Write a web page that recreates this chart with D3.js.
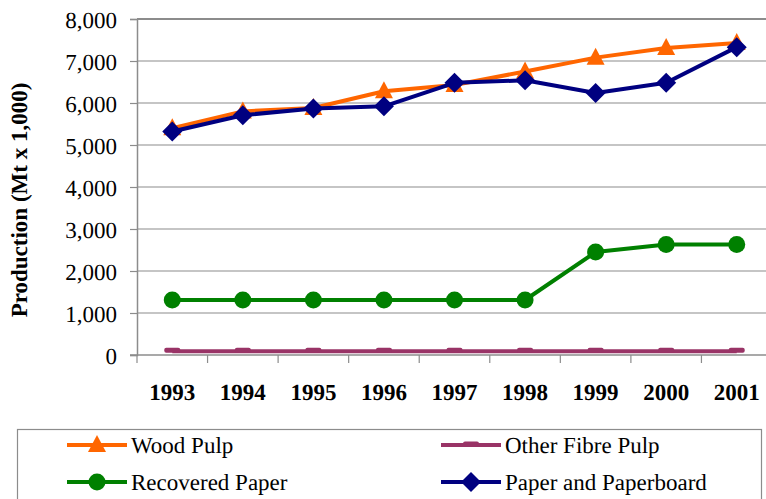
<!DOCTYPE html>
<html>
<head>
<meta charset="utf-8">
<script src="https://cdn.jsdelivr.net/npm/d3@7"></script>
<style>
    body { margin: 0; background: #fff; }
    svg { display: block; }
</style>
</head>
<body>
<svg id="chart" width="766" height="499" font-family="'Liberation Serif', serif" text-rendering="geometricPrecision"></svg>
<script>
const years = ["1993", "1994", "1995", "1996", "1997", "1998", "1999", "2000", "2001"];
const yTicks = [0, 1000, 2000, 3000, 4000, 5000, 6000, 7000, 8000];

const woodPulp = [5400, 5800, 5880, 6280, 6430, 6750, 7080, 7310, 7430];
const otherFibrePulp = [90, 90, 90, 90, 90, 90, 90, 90, 90];
const recoveredPaper = [1310, 1310, 1310, 1310, 1310, 1310, 2450, 2630, 2630];
const paperAndPaperboard = [5320, 5710, 5870, 5920, 6480, 6540, 6240, 6480, 7330];

const seriesNames = ["Wood Pulp", "Other Fibre Pulp", "Recovered Paper", "Paper and Paperboard"];
const seriesColors = ["#ff6600", "#993366", "#008000", "#000080"];
const seriesMarkers = ["triangle", "dash", "circle", "diamond"];
const seriesValues = [woodPulp, otherFibrePulp, recoveredPaper, paperAndPaperboard];

const FONT = "'Liberation Serif', serif";
const svg = d3.select("#chart");

const plot = { left: 137, top: 19, right: 772, bottom: 355 };

const x = d3.scaleBand()
    .domain(years)
    .range([plot.left, plot.right]);

const y = d3.scaleLinear()
    .domain([0, 8000])
    .range([plot.bottom, plot.top]);

// gridlines
svg.append("g")
    .selectAll("line")
    .data(yTicks.filter(function(d) { return d > 0; }))
    .enter()
    .append("line")
    .attr("x1", plot.left)
    .attr("x2", 766)
    .attr("y1", function(d) { return y(d); })
    .attr("y2", function(d) { return y(d); })
    .attr("stroke", "#8c8c8c")
    .attr("stroke-width", function(d) { return d === 8000 ? 2 : 1.2; });

// y axis
const yAxis = svg.append("g")
    .attr("transform", "translate(" + plot.left + ",0)")
    .call(d3.axisLeft(y).tickValues(yTicks).tickSize(7).tickFormat(d3.format(",")));

yAxis.attr("font-family", FONT).attr("font-size", 23);
yAxis.select(".domain").attr("stroke", "#8c8c8c").attr("stroke-width", 1.5);
yAxis.selectAll(".tick line").attr("stroke", "#8c8c8c").attr("stroke-width", 1.2);
yAxis.selectAll(".tick text")
    .attr("x", -20)
    .attr("dy", "0.35em")
    .attr("fill", "#000")
    .attr("font-family", FONT)
    .attr("font-size", 23);

// x axis
const xAxis = svg.append("g")
    .attr("transform", "translate(0," + plot.bottom + ")");

xAxis.append("line")
    .attr("x1", plot.left - 7)
    .attr("x2", 766)
    .attr("y1", 0)
    .attr("y2", 0)
    .attr("stroke", "#8c8c8c")
    .attr("stroke-width", 1.5);

xAxis.selectAll(".xtick")
    .data(years.concat(["end"]))
    .enter()
    .append("line")
    .attr("class", "xtick")
    .attr("x1", function(d, i) { return plot.left + i * x.bandwidth(); })
    .attr("x2", function(d, i) { return plot.left + i * x.bandwidth(); })
    .attr("y1", 0)
    .attr("y2", 8)
    .attr("stroke", "#8c8c8c")
    .attr("stroke-width", 1.2);

xAxis.selectAll(".year-label")
    .data(years)
    .enter()
    .append("text")
    .attr("class", "year-label")
    .attr("x", function(d) { return x(d) + x.bandwidth() / 2; })
    .attr("y", 45)
    .attr("text-anchor", "middle")
    .attr("font-family", FONT)
    .attr("font-size", 23)
    .attr("font-weight", "bold")
    .text(function(d) { return d; });

// axis title
svg.append("text")
    .attr("transform", "translate(27,200) rotate(-90)")
    .attr("text-anchor", "middle")
    .attr("font-family", FONT)
    .attr("font-size", 23)
    .attr("font-weight", "bold")
    .text("Production (Mt x 1,000)");

function drawMarker(group, type, color) {
    if (type === "triangle") {
        group.append("path")
            .attr("d", "M0,-10 L9,7 L-9,7 Z")
            .attr("fill", color);
    } else if (type === "diamond") {
        group.append("path")
            .attr("d", "M0,-10 L10,0 L0,10 L-10,0 Z")
            .attr("fill", color);
    } else if (type === "circle") {
        group.append("circle")
            .attr("r", 8.5)
            .attr("fill", color);
    } else if (type === "dash") {
        group.append("rect")
            .attr("x", -8)
            .attr("y", -3.5)
            .attr("width", 16)
            .attr("height", 5)
            .attr("rx", 2)
            .attr("fill", color);
    }
}

const line = d3.line()
    .x(function(d, i) { return x(years[i]) + x.bandwidth() / 2; })
    .y(function(d) { return y(d); });

seriesValues.forEach(function(values, s) {
    const g = svg.append("g");

    g.append("path")
        .datum(values)
        .attr("d", line)
        .attr("fill", "none")
        .attr("stroke", seriesColors[s])
        .attr("stroke-width", 4)
        .attr("stroke-linejoin", "round");

    values.forEach(function(v, i) {
        const m = g.append("g")
            .attr("transform", "translate(" + (x(years[i]) + x.bandwidth() / 2) + "," + y(v) + ")");
        drawMarker(m, seriesMarkers[s], seriesColors[s]);
    });
});

// legend
svg.append("rect")
    .attr("x", 17.5)
    .attr("y", 429.5)
    .attr("width", 744)
    .attr("height", 80)
    .attr("fill", "none")
    .attr("stroke", "#8c8c8c")
    .attr("stroke-width", 1.2);

const legendPos = [
    { x: 67, y: 445 },
    { x: 441, y: 445 },
    { x: 67, y: 482 },
    { x: 441, y: 482 }
];

seriesNames.forEach(function(name, s) {
    const p = legendPos[s];
    const g = svg.append("g");

    g.append("line")
        .attr("x1", p.x)
        .attr("x2", p.x + 60)
        .attr("y1", p.y)
        .attr("y2", p.y)
        .attr("stroke", seriesColors[s])
        .attr("stroke-width", 4);

    drawMarker(g.append("g").attr("transform", "translate(" + (p.x + 30) + "," + p.y + ")"),
        seriesMarkers[s], seriesColors[s]);

    g.append("text")
        .attr("x", p.x + 64)
        .attr("y", p.y)
        .attr("dy", "0.35em")
        .attr("font-family", FONT)
        .attr("font-size", 23)
        .text(name);
});
</script>
</body>
</html>
